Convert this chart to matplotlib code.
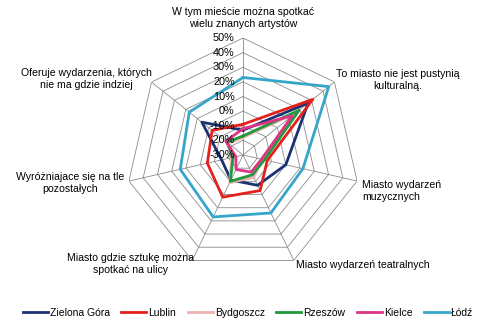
import numpy as np
import matplotlib
matplotlib.use("Agg")
import matplotlib.pyplot as plt
from matplotlib.transforms import offset_copy

plt.rcParams['font.family'] = ['Liberation Sans', 'DejaVu Sans']

# kategorie (zgodnie z ruchem wskazówek zegara, od góry)
categories = [
    "W tym mieście można spotkać\nwielu znanych artystów",
    "To miasto nie jest pustynią\nkulturalną.",
    "Miasto wydarzeń\nmuzycznych",
    "Miasto wydarzeń teatralnych",
    "Miasto gdzie sztukę można\nspotkać na ulicy",
    "Wyróżniajace się na tle\npozostałych",
    "Oferuje wydarzenia, których\nnie ma gdzie indziej",
]

# wartości w %
zielona_gora = [-13, 27, 0, -7, -11, -15, 6]
lublin = [-9, 31, -13, -3, 2, -5, -3]
bydgoszcz = [-18, 16, -17, -13, -9, -22, -17]
rzeszow = [-17, 19, -15, -15, -10, -23, -16]
kielce = [-12, 13, -17, -17, -19, -25, -15]
lodz = [23, 45, 12, 14, 17, 14, 17]

series = [
    ("Zielona Góra", zielona_gora, "#1B3272"),
    ("Lublin", lublin, "#E3201C"),
    ("Bydgoszcz", bydgoszcz, "#EDB2B2"),
    ("Rzeszów", rzeszow, "#20993A"),
    ("Kielce", kielce, "#DE3486"),
    ("Łódź", lodz, "#34A6C9"),
]

levels = [-20, -10, 0, 10, 20, 30, 40, 50]
rmin, rmax = -30, 50

n = len(categories)
theta = np.linspace(0, 2 * np.pi, n, endpoint=False)
theta_c = np.append(theta, theta[0])

fig = plt.figure(figsize=(4.86, 3.30), dpi=100)
cx, cy, R = 243 / 486, 1 - 155 / 330, 117
w, h = R / 486, R / 330
ax = fig.add_axes([cx - w, cy - h, 2 * w, 2 * h], projection='polar')
ax.set_theta_offset(np.pi / 2)
ax.set_theta_direction(-1)
ax.set_ylim(rmin, rmax)
ax.grid(False)
ax.spines['polar'].set_visible(False)
ax.set_xticks([])
ax.set_yticks([])
ax.patch.set_alpha(0)

# siatka wielokątna
for lv in levels:
    ax.plot(theta_c, [lv] * (n + 1), color='#8c8c8c', lw=0.6, zorder=1)
for t in theta:
    ax.plot([t, t], [rmin, rmax], color='#8c8c8c', lw=0.6, zorder=1)

# etykiety osi wartości
lab_tr = offset_copy(ax.transData, fig=fig, x=-6, y=0, units='points')
for lv in [rmin] + levels:
    ax.text(0, lv, f"{lv}%", ha='right', va='center', fontsize=7.8,
            transform=lab_tr, zorder=5)

handles = []
for name, vals, col in series:
    ln, = ax.plot(theta_c, vals + vals[:1], color=col, lw=2.0, label=name, zorder=3)
    handles.append(ln)

# etykiety kategorii
fs = 7.6
fig.text(243 / 486, 1 - 18 / 330, categories[0], ha='center', va='center', fontsize=fs, linespacing=1.15)
fig.text(398 / 486, 1 - 80 / 330, categories[1], ha='center', va='center', fontsize=fs, linespacing=1.15)
fig.text(362 / 486, 1 - 191 / 330, categories[2], ha='left', va='center', fontsize=fs, linespacing=1.15)
fig.text(296 / 486, 1 - 265 / 330, categories[3], ha='left', va='center', fontsize=fs, linespacing=1.15)
fig.text(130 / 486, 1 - 264 / 330, categories[4], ha='center', va='center', fontsize=fs, linespacing=1.15)
fig.text(70 / 486, 1 - 183 / 330, categories[5], ha='center', va='center', fontsize=fs, linespacing=1.15)
fig.text(86 / 486, 1 - 79 / 330, categories[6], ha='center', va='center', fontsize=fs, linespacing=1.15)

fig.legend(handles=handles, loc='center', bbox_to_anchor=(248 / 486, 1 - 313 / 330), ncol=6,
           frameon=False, fontsize=7.5, handlelength=2.4, handletextpad=0.2,
           columnspacing=1.1)

fig.savefig('out.png', dpi=100)
